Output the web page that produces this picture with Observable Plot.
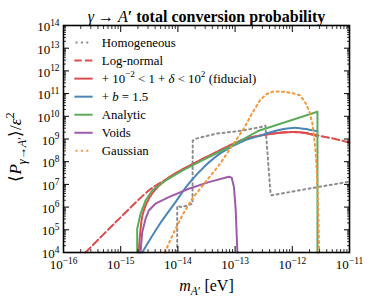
<!DOCTYPE html>
<html><head><meta charset="utf-8">
<script src="https://cdn.jsdelivr.net/npm/d3@7"></script>
<script src="https://cdn.jsdelivr.net/npm/@observablehq/plot@0.6"></script>
<style>body{margin:0;background:#fff} svg{display:block}</style>
</head><body><div id="chart"></div>
<script>
// ---- data (log10 of m_A' [eV] and of <P>/eps^2) ----
const homogeneousLogM = [-14.012,-14.012,-13.93,-13.80,-13.745,-13.74,-13.69,-13.34,-12.876,-12.56,-12.47,-12.38,-12.36,-11.7,-11.0];
const homogeneousLogP = [4.0,6.05,6.0,6.1,6.15,8.93,9.01,9.23,9.37,9.52,9.59,6.58,6.52,6.82,7.12];

const logNormalLogM = [-15.615,-15.09,-14.51,-14.34,-14.217,-13.925,-13.343,-12.848,-12.50,-12.09,-11.80,-11.54,-11.25,-11.0];
const logNormalLogP = [4.0,5.33,6.73,7.02,7.2,7.65,8.40,8.98,9.18,9.30,9.28,9.15,9.0,8.84];

const fiducialLogM = [-14.684,-14.663,-14.62,-14.55,-14.44,-14.217,-13.925,-13.343,-12.848,-12.50,-12.09,-11.80,-11.56];
const fiducialLogP = [4.0,4.75,5.63,6.16,6.64,7.2,7.65,8.40,8.98,9.18,9.30,9.28,9.12];

const biasLogM = [-14.624,-14.334,-14.042,-13.81,-13.517,-13.226,-12.848,-12.56,-12.38,-12.15,-11.98,-11.8,-11.56];
const biasLogP = [4.0,5.19,6.22,7.03,7.83,8.42,8.92,9.15,9.30,9.44,9.49,9.45,9.34];

const analyticLogM = [-14.712,-14.712,-14.654,-14.566,-14.449,-14.217,-13.925,-13.635,-13.343,-13.051,-12.848,-12.6,-11.56,-11.56];
const analyticLogP = [4.0,5.04,5.70,6.29,6.73,7.17,7.61,7.98,8.35,8.71,9.01,9.35,10.2,4.0];

const voidsLogM = [-14.654,-14.624,-14.566,-14.509,-14.392,-14.159,-13.81,-13.46,-13.11,-13.06,-13.02,-12.99,-12.96];
const voidsLogP = [4.0,4.89,5.48,5.85,6.15,6.44,6.81,7.10,7.34,7.30,6.88,5.9,4.0];

const gaussianLogM = [-14.23,-14.07,-13.925,-13.75,-13.52,-13.285,-13.05,-12.85,-12.70,-12.56,-12.45,-12.32,-12.15,-12.0,-11.86,-11.76,-11.70,-11.65,-11.60,-11.57,-11.55,-11.53];
const gaussianLogP = [4.0,4.89,5.63,6.37,7.10,7.83,8.71,9.45,10.15,10.72,10.98,11.1,11.08,11.02,10.92,10.55,10.2,9.7,8.7,7.5,6.2,4.0];

const seriesLabels = [
  "Homogeneous",
  "Log-normal",
  "+ 10^{−2} < 1 + |δ| < 10^{2} (fiducial)",
  "+ |b| = 1.5",
  "Analytic",
  "Voids",
  "Gaussian"
];
const xTickExps = [-16,-15,-14,-13,-12,-11];
const yTickExps = [4,5,6,7,8,9,10,11,12,13,14];
const titleText = "|γ| → |A|′ total conversion probability";
const xLabelText = "|m|_{|A|′} [eV]";
const yLabelText = "⟨|P|_{|γ|→|A|′}⟩/|ε|^{2}";

// ---- styles ----
const serif = "Liberation Serif, Times New Roman, serif";
const styles = [
  {color:"#8c8c8c", dash:"2,3.4", curve:"linear"},
  {color:"#dc4c4c", dash:"7.4,3.2", curve:"catmull-rom"},
  {color:"#dc4c4c", dash:null, curve:"catmull-rom"},
  {color:"#4a86b8", dash:null, curve:"catmull-rom"},
  {color:"#5cab5c", dash:null, curve:"linear"},
  {color:"#9c5caa", dash:null, curve:"linear"},
  {color:"#f5963a", dash:"2,3.4", curve:"linear"}
];
const seriesData = [
  [homogeneousLogM, homogeneousLogP],
  [logNormalLogM, logNormalLogP],
  [fiducialLogM, fiducialLogP],
  [biasLogM, biasLogP],
  [analyticLogM, analyticLogP],
  [voidsLogM, voidsLogP],
  [gaussianLogM, gaussianLogP]
];
const toPts = (ms, ps) => ms.map((m, i) => ({m: 10 ** m, p: 10 ** ps[i]}));

const xMajor = xTickExps.map(e => 10 ** e);
const yMajor = yTickExps.map(e => 10 ** e);
const minorOf = exps => exps.slice(0, -1).flatMap(e => [2,3,4,5,6,7,8,9].map(k => k * 10 ** e));
const xMinor = minorOf(xTickExps);
const yMinor = minorOf(yTickExps);
const expFmt = v => { const e = Math.round(Math.log10(v)); return "10^{" + (e < 0 ? "−" + (-e) : e) + "}"; };

const marks = [];
seriesData.forEach(([ms, ps], i) => {
  const s = styles[i];
  marks.push(Plot.line(toPts(ms, ps), {x:"m", y:"p", stroke:s.color, strokeWidth:2, strokeDasharray:s.dash, curve:s.curve}));
});

// legend (inside the frame, top-left)
const legendTop = 13.25, legendStep = 0.795;
seriesLabels.forEach((lab, i) => {
  const s = styles[i];
  const y = 10 ** (legendTop - i * legendStep);
  const dotted = s.dash === "2,3.4";
  marks.push(Plot.link([lab], {x1: 10 ** (dotted ? -15.79 : -15.81), x2: 10 ** (dotted ? -15.53 : -15.49), y1: y, y2: y,
    stroke: s.color, strokeWidth: 2, strokeDasharray: s.dash}));
});
marks.push(Plot.text(seriesLabels, {x: 10 ** -15.33, y: (d, i) => 10 ** (legendTop - i * legendStep), text: d => d,
  textAnchor: "start", fontSize: 12.8, fill: "black"}));

// axes: inward ticks on all four sides
for (const anchor of ["bottom", "top"]) {
  marks.push(Plot.axisX(xMajor, {anchor, tickSize: -6, fill: "none", label: null, strokeWidth: 1}));
  marks.push(Plot.axisX(xMinor, {anchor, tickSize: -3, fill: "none", label: null, strokeWidth: 0.8}));
}
for (const anchor of ["left", "right"]) {
  marks.push(Plot.axisY(yMajor, {anchor, tickSize: -6, fill: "none", label: null, strokeWidth: 1}));
  marks.push(Plot.axisY(yMinor, {anchor, tickSize: -3, fill: "none", label: null, strokeWidth: 0.8}));
}
marks.push(Plot.axisX(xMajor, {anchor: "bottom", tickSize: 0, tickPadding: 7.5, tickFormat: expFmt, label: null, fontSize: 13, fill: "black"}));
marks.push(Plot.axisY(yMajor, {anchor: "left", tickSize: 0, tickPadding: 4, tickFormat: expFmt, label: null, fontSize: 13, fill: "black", dy: 1.5}));

marks.push(Plot.frame({stroke: "black", strokeWidth: 1.6}));

// titles
marks.push(Plot.text([titleText], {frameAnchor: "top", dy: -4, lineAnchor: "bottom", fontSize: 16, fontWeight: "bold", text: d => d, fill: "black"}));
marks.push(Plot.text([xLabelText], {frameAnchor: "bottom", dy: 38, lineAnchor: "bottom", textAnchor: "middle", fontSize: 16, text: d => d, fill: "black"}));
marks.push(Plot.text([yLabelText], {frameAnchor: "left", dx: -48, rotate: -90, textAnchor: "middle", lineAnchor: "middle", fontSize: 17, text: d => d, fill: "black"}));

const chart = Plot.plot({
  width: 374, height: 304,
  marginLeft: 63, marginRight: 25, marginTop: 25, marginBottom: 52,
  style: {fontFamily: serif, background: "white", color: "black"},
  x: {type: "log", domain: [1e-16, 1e-11]},
  y: {type: "log", domain: [1e4, 1e14]},
  marks
});
document.getElementById("chart").append(chart);

// rich text: ^{sup} _{sub} |italic|
function parse(s) {
  const segs = []; let italic = false; const stack = [0]; let buf = "";
  const flush = () => { if (buf) { segs.push({text: buf, level: stack[stack.length - 1], italic}); buf = ""; } };
  for (let i = 0; i < s.length; i++) {
    const c = s[i];
    if ((c === "^" || c === "_") && s[i + 1] === "{") { flush(); stack.push(c === "^" ? 1 : -1); i++; }
    else if (c === "}" && stack.length > 1) { flush(); stack.pop(); }
    else if (c === "|") { flush(); italic = !italic; }
    else buf += c;
  }
  flush();
  return segs;
}
let yLabelEl = null;
d3.select(chart).selectAll("text").each(function () {
  const s = this.textContent;
  if (!/[\^_|]/.test(s)) return;
  if (s === yLabelText) yLabelEl = this;
  const base = parseFloat(getComputedStyle(this).fontSize);
  const bold = getComputedStyle(this).fontWeight >= 600;
  this.textContent = "";
  let cur = 0;
  for (const g of parse(s)) {
    const t = document.createElementNS("http://www.w3.org/2000/svg", "tspan");
    const target = g.level > 0 ? -0.42 * base : g.level < 0 ? 0.3 * base : 0;
    if (target !== cur) t.setAttribute("dy", target - cur);
    cur = target;
    if (g.level) t.setAttribute("font-size", 0.72 * base);
    if (g.italic) { t.setAttribute("font-style", "italic"); if (bold) t.setAttribute("font-weight", "normal"); }
    t.textContent = g.text;
    this.appendChild(t);
  }
});
// center the rotated y label on its reference position
if (yLabelEl) {
  const svgRect = chart.getBoundingClientRect();
  const r = yLabelEl.getBoundingClientRect();
  const cy = r.top - svgRect.top + r.height / 2;
  yLabelEl.setAttribute("x", cy - 147);
}
</script>
</body></html>
